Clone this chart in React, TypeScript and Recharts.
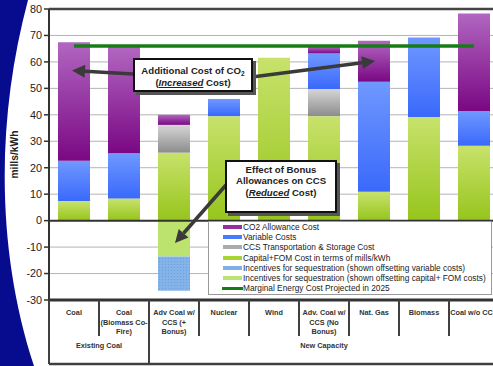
import React from "react";
import {
  ComposedChart,
  Bar,
  Line,
  XAxis,
  YAxis,
  CartesianGrid,
  ReferenceLine,
  Legend,
  Label,
} from "recharts";

const CATEGORIES = [
  "Coal",
  "Coal (Biomass Co-Fire)",
  "Adv Coal w/ CCS (+ Bonus)",
  "Nuclear",
  "Wind",
  "Adv. Coal w/ CCS (No Bonus)",
  "Nat. Gas",
  "Biomass",
  "Coal w/o CCS",
];
const CATEGORY_LINES = [
  ["Coal"],
  ["Coal", "(Biomass Co-", "Fire)"],
  ["Adv Coal w/", "CCS (+", "Bonus)"],
  ["Nuclear"],
  ["Wind"],
  ["Adv. Coal w/", "CCS (No", "Bonus)"],
  ["Nat. Gas"],
  ["Biomass"],
  ["Coal w/o CCS"],
];
const GROUPS = [
  { label: "Existing Coal", start: 0, count: 2 },
  { label: "New Capacity", start: 2, count: 7 },
];

// mills/kWh, stacked segments
const CAPITAL_FOM = [7.4, 8.4, 25.7, 39.5, 61.6, 39.5, 10.9, 39.2, 28.3];
const CCS_TRANSPORT = [0, 0, 10.5, 0, 0, 10.3, 0, 0, 0];
const VARIABLE = [15.2, 17.1, 0, 6.5, 0, 13.4, 41.6, 30.0, 13.1];
const CO2_ALLOWANCE = [44.8, 40.1, 3.8, 0, 0, 2.5, 15.5, 0, 36.9];
const INCENTIVE_CAPITAL = [0, 0, -13.6, 0, 0, 0, 0, 0, 0];
const INCENTIVE_VARIABLE = [0, 0, -12.9, 0, 0, 0, 0, 0, 0];
const MARGINAL_2025 = [66, 66, 66, 66, 66, 66, 66, 66, 66];
const Y_TICKS = [-30, -20, -10, 0, 10, 20, 30, 40, 50, 60, 70, 80];

const data = CATEGORIES.map((name, i) => ({
  name,
  capital: CAPITAL_FOM[i],
  ccs: CCS_TRANSPORT[i],
  variable: VARIABLE[i],
  co2: CO2_ALLOWANCE[i],
  incCapital: INCENTIVE_CAPITAL[i],
  incVariable: INCENTIVE_VARIABLE[i],
  marginal: MARGINAL_2025[i],
}));

const FONT = '"Liberation Sans", Arial, sans-serif';
const CHART_W = 512;
const CHART_H = 366;
const MARGIN = { top: 9, right: 13, bottom: 0, left: 0 };
const Y_AXIS_W = 49;
const X_AXIS_H = 66;
const BAND_W = (CHART_W - MARGIN.left - MARGIN.right - Y_AXIS_W) / CATEGORIES.length;

const LEGEND_ITEMS = [
  { label: "CO2 Allowance Cost", color: "#97309f" },
  { label: "Variable Costs", color: "#4a7bff" },
  { label: "CCS Transportation & Storage Cost", color: "#ababab" },
  { label: "Capital+FOM Cost in terms of mills/kWh", color: "#a8d431" },
  { label: "Incentives for sequestration (shown offsetting variable costs)", color: "#80b0e6" },
  { label: "Incentives for sequestration (shown offsetting capital+ FOM costs)", color: "#bce372" },
  { label: "Marginal Energy Cost Projected in 2025", color: "#167d16", line: true },
];

function CategoryTick(props: any) {
  const { x, y, payload } = props;
  const i = CATEGORIES.indexOf(payload.value);
  const left = x - BAND_W / 2;
  const group = GROUPS.find((g) => g.start === i);
  return (
    <g>
      <line x1={left} x2={left} y1={y} y2={y + (group ? 64 : 36)} stroke="#404040" strokeWidth={2} />
      <line x1={left} x2={left + BAND_W} y1={y + 64} y2={y + 64} stroke="#404040" strokeWidth={2.5} />
      {CATEGORY_LINES[i].map((t, k) => (
        <text
          key={k}
          x={x}
          y={y + 15 + k * 9.5}
          textAnchor="middle"
          fontSize={7.3}
          fontWeight="bold"
          fill="#333"
          fontFamily={FONT}
        >
          {t}
        </text>
      ))}
      {group && (
        <text
          x={left + (group.count * BAND_W) / 2}
          y={y + 48}
          textAnchor="middle"
          fontSize={7.3}
          fontWeight="bold"
          fill="#333"
          fontFamily={FONT}
        >
          {group.label}
        </text>
      )}
    </g>
  );
}

function YLabel(props: any) {
  const { viewBox } = props;
  const cx = viewBox.x + 14;
  const cy = viewBox.y + viewBox.height / 2;
  return (
    <text
      x={cx}
      y={cy}
      transform={`rotate(-90 ${cx} ${cy})`}
      textAnchor="middle"
      dominantBaseline="central"
      fontSize={10.3}
      fontWeight="bold"
      fill="#222"
      fontFamily={FONT}
    >
      mills/kWh
    </text>
  );
}

function LegendBox() {
  return (
    <div
      style={{
        width: 284,
        height: 74,
        boxSizing: "border-box",
        border: "1px solid #999",
        background: "#fff",
        fontFamily: FONT,
        fontSize: 8.3,
        color: "#222",
      }}
    >
      {LEGEND_ITEMS.map((item) => (
        <div key={item.label} style={{ display: "flex", alignItems: "center", height: 10.2, whiteSpace: "nowrap" }}>
          <span
            style={{
              display: "inline-block",
              marginLeft: item.line ? 13 : 14,
              width: item.line ? 21 : 19,
              height: item.line ? 3 : 4,
              background: item.color,
              marginRight: item.line ? 0 : 1,
            }}
          />
          <span>{item.label}</span>
        </div>
      ))}
    </div>
  );
}

function arrowHead(x0: number, y0: number, tx: number, ty: number) {
  const dx = tx - x0;
  const dy = ty - y0;
  const len = Math.hypot(dx, dy);
  const ux = dx / len;
  const uy = dy / len;
  const bx = tx - ux * 13;
  const by = ty - uy * 13;
  const px = -uy * 6.5;
  const py = ux * 6.5;
  return {
    bx,
    by,
    points: `${tx},${ty} ${bx + px},${by + py} ${bx - px},${by - py}`,
  };
}

const ARROWS = [
  [133, 74, 72, 70.5],
  [252, 77, 375, 61],
  [226, 185, 175, 243],
];

const boxStyle: React.CSSProperties = {
  position: "absolute",
  boxSizing: "border-box",
  border: "2px solid #111",
  background: "#fff",
  boxShadow: "3px 3px 0 #555",
  fontFamily: FONT,
  fontWeight: "bold",
  fontSize: 9.6,
  color: "#222",
  textAlign: "center",
  whiteSpace: "nowrap",
};

export default function App() {
  return (
    <div
      style={{
        position: "fixed",
        left: 0,
        top: 0,
        width: 493,
        height: 366,
        overflow: "hidden",
        background: "#fff",
      }}
    >
      <svg width={493} height={366} style={{ position: "absolute", left: 0, top: 0 }}>
        <path d="M0,0 L28,0 C-4,120 -4,250 34,366 L0,366 Z" fill="#070c8e" />
      </svg>
      <div style={{ position: "absolute", left: 0, top: 0 }}>
        <ComposedChart
          width={CHART_W}
          height={CHART_H}
          data={data}
          margin={MARGIN}
          stackOffset="sign"
          barCategoryGap="18%"
          style={{ fontFamily: FONT }}
        >
          <defs>
            <linearGradient id="gPurple" x1="0" y1="0" x2="0" y2="1">
              <stop offset="0%" stopColor="#b166c1" />
              <stop offset="100%" stopColor="#7a0883" />
            </linearGradient>
            <linearGradient id="gBlue" x1="0" y1="0" x2="0" y2="1">
              <stop offset="0%" stopColor="#6f98ff" />
              <stop offset="100%" stopColor="#3a69fb" />
            </linearGradient>
            <linearGradient id="gGray" x1="0" y1="0" x2="0" y2="1">
              <stop offset="0%" stopColor="#d6d6d6" />
              <stop offset="100%" stopColor="#8c8c8c" />
            </linearGradient>
            <linearGradient id="gGreen" x1="0" y1="0" x2="0" y2="1">
              <stop offset="0%" stopColor="#c8e26c" />
              <stop offset="100%" stopColor="#96c51c" />
            </linearGradient>
            <pattern id="pBlueDots" width="3" height="3" patternUnits="userSpaceOnUse">
              <rect width="3" height="3" fill="#84b3ea" />
              <rect width="1" height="1" fill="#6c9fdc" />
            </pattern>
          </defs>
          <CartesianGrid vertical={false} stroke="#b4b4b4" strokeWidth={1} />
          <XAxis
            dataKey="name"
            interval={0}
            height={X_AXIS_H}
            tickSize={0}
            tickMargin={0}
            tickLine={false}
            axisLine={{ stroke: "#333", strokeWidth: 3 }}
            tick={(p: any) => <CategoryTick {...p} />}
          />
          <YAxis
            width={Y_AXIS_W}
            domain={[-30, 80]}
            ticks={Y_TICKS}
            interval={0}
            tickSize={5}
            tick={{ fontSize: 10.8, fill: "#222", fontFamily: FONT }}
            tickLine={{ stroke: "#333", strokeWidth: 1.5 }}
            axisLine={{ stroke: "#333", strokeWidth: 2 }}
          >
            <Label content={<YLabel />} />
          </YAxis>
          <ReferenceLine y={80} stroke="#444" strokeWidth={2.5} />
          <Bar dataKey="capital" stackId="a" fill="url(#gGreen)" isAnimationActive={false} />
          <Bar dataKey="ccs" stackId="a" fill="url(#gGray)" isAnimationActive={false} />
          <Bar dataKey="variable" stackId="a" fill="url(#gBlue)" isAnimationActive={false} />
          <Bar dataKey="co2" stackId="a" fill="url(#gPurple)" isAnimationActive={false} />
          <Bar dataKey="incCapital" stackId="a" fill="#bce36d" isAnimationActive={false} />
          <Bar dataKey="incVariable" stackId="a" fill="url(#pBlueDots)" isAnimationActive={false} />
          <ReferenceLine y={0} stroke="#333" strokeWidth={2} />
          <Line
            dataKey="marginal"
            stroke="#167d16"
            strokeWidth={3.5}
            dot={false}
            activeDot={false}
            isAnimationActive={false}
          />
          <Legend
            layout="vertical"
            align="center"
            verticalAlign="middle"
            content={() => <LegendBox />}
            wrapperStyle={{ left: 208, top: 221, width: 284, height: 74 }}
          />
        </ComposedChart>
      </div>
      <svg
        width={493}
        height={366}
        style={{ position: "absolute", left: 0, top: 0, pointerEvents: "none" }}
      >
        {ARROWS.map(([x0, y0, tx, ty], k) => {
          const h = arrowHead(x0, y0, tx, ty);
          return (
            <g key={k}>
              <line x1={x0} y1={y0} x2={h.bx} y2={h.by} stroke="#3a3a3a" strokeWidth={3.5} />
              <polygon points={h.points} fill="#3a3a3a" />
            </g>
          );
        })}
      </svg>
      <div style={{ ...boxStyle, left: 133, top: 57.5, width: 120, height: 34, paddingTop: 5.5, lineHeight: "11px" }}>
        Additional Cost of CO
        <span style={{ fontSize: 6.5, position: "relative", top: 2 }}>2</span>
        <br />(
        <i>
          <u>Increased</u>
        </i>{" "}
        Cost)
      </div>
      <div style={{ ...boxStyle, left: 225, top: 160, width: 112, height: 53, paddingTop: 1.5, lineHeight: "11.7px" }}>
        Effect of Bonus
        <br />
        Allowances on CCS
        <br />(
        <i>
          <u>Reduced</u>
        </i>{" "}
        Cost)
      </div>
    </div>
  );
}
